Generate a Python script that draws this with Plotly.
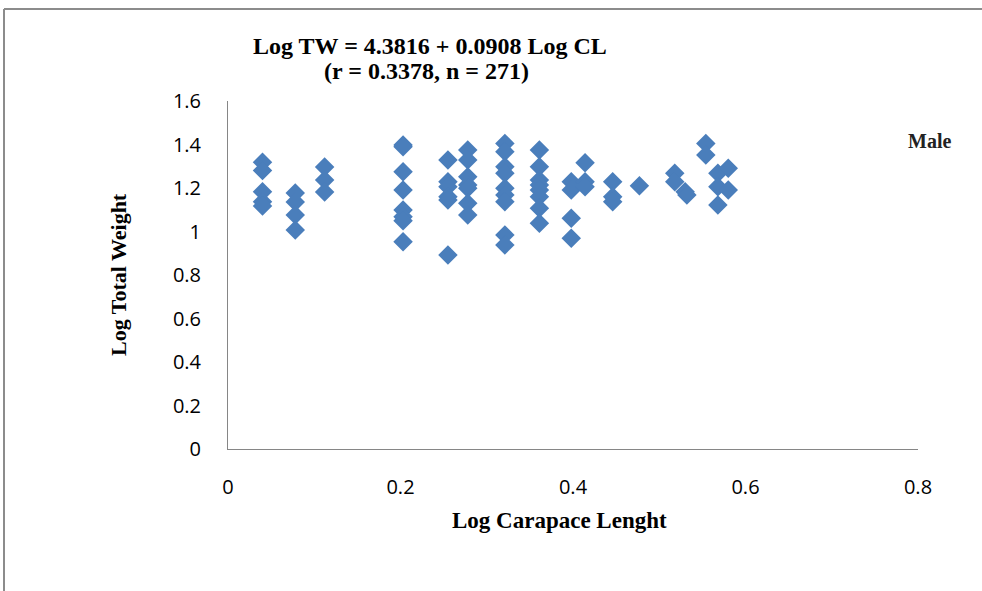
import plotly.graph_objects as go

# Data (Log Carapace Length vs Log Total Weight, males)
log_cl = [
    0.040, 0.040, 0.040, 0.040, 0.040,
    0.078, 0.078, 0.078, 0.078,
    0.112, 0.112, 0.112,
    0.203, 0.203, 0.203, 0.203, 0.203, 0.203, 0.203, 0.203,
    0.255, 0.255, 0.255, 0.255, 0.255, 0.255,
    0.278, 0.278, 0.278, 0.278, 0.278, 0.278, 0.278,
    0.321, 0.321, 0.321, 0.321, 0.321, 0.321, 0.321, 0.321, 0.321,
    0.361, 0.361, 0.361, 0.361, 0.361, 0.361, 0.361, 0.361,
    0.398, 0.398, 0.398, 0.398,
    0.414, 0.414, 0.414,
    0.446, 0.446, 0.446,
    0.477,
    0.518, 0.518,
    0.530, 0.532,
    0.554, 0.554,
    0.568, 0.568, 0.568,
    0.580, 0.580,
]
log_tw = [
    1.318, 1.280, 1.183, 1.137, 1.117,
    1.177, 1.136, 1.076, 1.007,
    1.297, 1.237, 1.182,
    1.398, 1.390, 1.275, 1.191, 1.099, 1.068, 1.050, 0.953,
    1.329, 1.229, 1.206, 1.160, 1.145, 0.892,
    1.375, 1.329, 1.252, 1.214, 1.199, 1.130, 1.076,
    1.405, 1.367, 1.298, 1.268, 1.199, 1.168, 1.137, 0.984, 0.938,
    1.375, 1.298, 1.237, 1.214, 1.191, 1.160, 1.107, 1.038,
    1.229, 1.191, 1.061, 0.969,
    1.316, 1.229, 1.206,
    1.229, 1.160, 1.137,
    1.210,
    1.268, 1.229,
    1.183, 1.168,
    1.405, 1.352,
    1.268, 1.206, 1.122,
    1.291, 1.191,
]
x_ticks = [0, 0.2, 0.4, 0.6, 0.8]
x_tick_labels = ["0", "0.2", "0.4", "0.6", "0.8"]
y_ticks = [0, 0.2, 0.4, 0.6, 0.8, 1.0, 1.2, 1.4, 1.6]
y_tick_labels = ["0", "0.2", "0.4", "0.6", "0.8", "1", "1.2", "1.4", "1.6"]
title_line1 = "Log TW = 4.3816 + 0.0908 Log CL"
title_line2 = "(r = 0.3378, n = 271)"
series_label = "Male"
x_title = "Log Carapace Lenght"
y_title = "Log Total Weight"

W, H = 982, 591
L, R, T, B = 228, 64, 101, 142
pw, ph = W - L - R, H - T - B

def px(xp):
    return (xp - L) / pw

def py(yp):
    return (H - B - yp) / ph

fig = go.Figure()
fig.add_trace(go.Scatter(
    x=log_cl, y=log_tw, mode="markers",
    marker=dict(symbol="diamond", size=15, color="#4A7EBB", line=dict(width=0)),
    showlegend=False, hoverinfo="x+y",
))

serif = "Liberation Serif, Times New Roman, serif"
tickfont = dict(family="Open Sans, sans-serif", size=20, color="#000000")

fig.update_layout(
    width=W, height=H,
    margin=dict(l=L, r=R, t=T, b=B, pad=0),
    paper_bgcolor="white", plot_bgcolor="white",
    xaxis=dict(range=[0, 0.8], tickvals=x_ticks, ticktext=x_tick_labels,
               showgrid=False, zeroline=False, showline=True, linecolor="#868686", linewidth=1,
               ticks="", tickfont=tickfont, ticklabelstandoff=20, fixedrange=True),
    yaxis=dict(range=[0, 1.6], tickvals=y_ticks, ticktext=y_tick_labels,
               showgrid=False, zeroline=False, showline=True, linecolor="#868686", linewidth=1,
               ticks="", tickfont=tickfont, ticklabelstandoff=22, fixedrange=True),
    annotations=[
        dict(text="<b>%s</b>" % title_line1, xref="paper", yref="paper",
             x=px(430), y=py(46), xanchor="center", yanchor="middle", showarrow=False,
             font=dict(family=serif, size=24, color="black")),
        dict(text="<b>%s</b>" % title_line2, xref="paper", yref="paper",
             x=px(426), y=py(71), xanchor="center", yanchor="middle", showarrow=False,
             font=dict(family=serif, size=24, color="black")),
        dict(text="<b>%s</b>" % series_label, xref="paper", yref="paper",
             x=px(930), y=py(141), xanchor="center", yanchor="middle", showarrow=False,
             font=dict(family=serif, size=20, color="#222222")),
        dict(text="<b>%s</b>" % x_title, xref="paper", yref="paper",
             x=px(559), y=py(520), xanchor="center", yanchor="middle", showarrow=False,
             font=dict(family=serif, size=23, color="black")),
        dict(text="<b>%s</b>" % y_title, xref="paper", yref="paper",
             x=px(118), y=py(275), xanchor="center", yanchor="middle", showarrow=False,
             textangle=-90, font=dict(family=serif, size=22, color="black")),
    ],
    shapes=[
        dict(type="line", xref="paper", yref="paper", x0=px(4), x1=px(990), y0=py(9), y1=py(9),
             line=dict(color="#8C8C8C", width=2)),
        dict(type="line", xref="paper", yref="paper", x0=px(4), x1=px(4), y0=py(9), y1=py(600),
             line=dict(color="#8C8C8C", width=2)),
    ],
)

fig.write_html("out.html", config={"displayModeBar": False},
               post_script="document.body.style.margin='0px';")
